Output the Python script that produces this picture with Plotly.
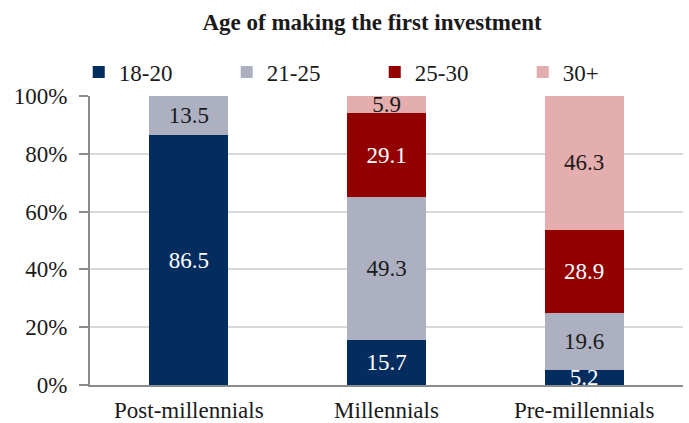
import plotly.graph_objects as go

categories = ["Post-millennials", "Millennials", "Pre-millennials"]
series_names = ["18-20", "21-25", "25-30", "30+"]
v_18_20 = [86.5, 15.7, 5.2]
v_21_25 = [13.5, 49.3, 19.6]
v_25_30 = [None, 29.1, 28.9]
v_30_plus = [None, 5.9, 46.3]
y_ticks = [0, 20, 40, 60, 80, 100]
y_tick_labels = ["0%", "20%", "40%", "60%", "80%", "100%"]

colors = ["#032d5e", "#adb0c1", "#920000", "#e4adae"]
text_colors = ["white", "#1a1a1a", "white", "#1a1a1a"]
FONT = "Liberation Serif"

fig = go.Figure()
for name, vals, c, tc in zip(series_names, [v_18_20, v_21_25, v_25_30, v_30_plus], colors, text_colors):
    fig.add_trace(go.Bar(
        name=name, x=categories, y=vals, marker=dict(color=c, line=dict(width=0)),
        text=[f"{v:.1f}" if v is not None else "" for v in vals],
        textposition="inside", insidetextanchor="middle", textangle=0,
        constraintext="none", cliponaxis=False,
        textfont=dict(family=FONT, size=23, color=tc),
        hoverinfo="skip",
    ))

fig.update_layout(
    barmode="stack", bargap=0.6,
    width=689, height=423,
    margin=dict(l=90, r=6, t=96, b=38),
    paper_bgcolor="white", plot_bgcolor="white",
    font=dict(family=FONT, size=23, color="#1a1a1a"),
    title=dict(text="<b>Age of making the first investment</b>", x=0.54, xanchor="center",
               y=0.948, yanchor="middle", font=dict(family=FONT, size=23, color="#1a1a1a")),
    legend=dict(orientation="h", x=-0.019, xanchor="left", y=1.083, yanchor="middle",
                entrywidth=103, entrywidthmode="pixels",
                font=dict(family=FONT, size=23, color="#1a1a1a"),
                itemclick=False, bgcolor="rgba(0,0,0,0)", traceorder="normal"),
    showlegend=True,
)
fig.update_yaxes(range=[0, 100], tickvals=y_ticks, ticktext=y_tick_labels,
                 showline=True, linecolor="#8c8c8c", linewidth=2,
                 ticks="outside", ticklen=9, tickcolor="#8c8c8c", tickwidth=2,
                 ticklabelstandoff=7, automargin=False,
                 showgrid=True, gridcolor="#d9d9d9", gridwidth=1.5, zeroline=False,
                 tickfont=dict(family=FONT, size=23))
fig.update_xaxes(showline=True, linecolor="#8c8c8c", linewidth=2, ticks="",
                 ticklabelstandoff=3, automargin=False,
                 tickfont=dict(family=FONT, size=23))

fig.write_html("out.html")
